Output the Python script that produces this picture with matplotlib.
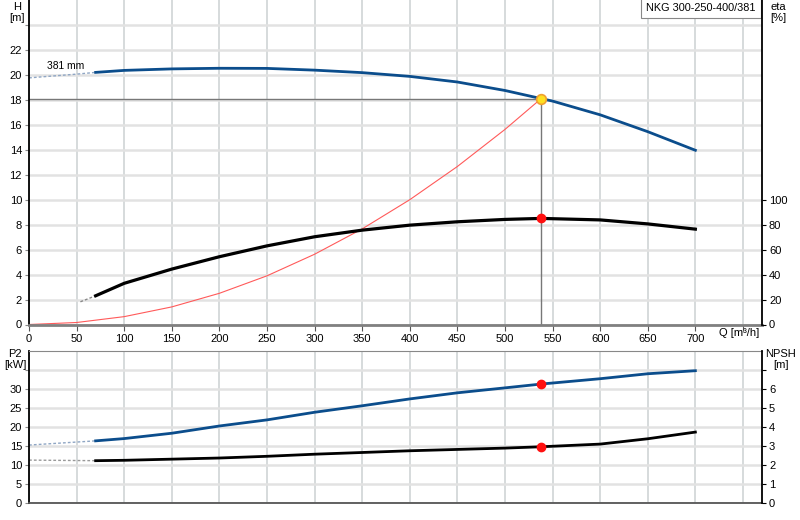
import numpy as np
import matplotlib
matplotlib.use("Agg")
import matplotlib.pyplot as plt

plt.rcParams['font.family'] = ['Liberation Sans', 'DejaVu Sans']
plt.rcParams['font.size'] = 8

# head curve H [m]
q_h = [0, 50, 70, 100, 150, 200, 250, 300, 350, 400, 450, 500, 538, 550, 600, 650, 700]
h = [19.76, 20.06, 20.2, 20.36, 20.48, 20.53, 20.52, 20.38, 20.18, 19.88, 19.43, 18.75, 18.1, 17.9, 16.8, 15.45, 13.96]

# efficiency eta [%]
q_eta = [54, 70, 100, 150, 200, 250, 300, 350, 400, 450, 500, 538, 600, 650, 700]
eta = [18.2, 23, 33, 44.4, 54.3, 63, 70.3, 75.6, 79.6, 82.3, 84.2, 85, 83.8, 80.6, 76.4]

# system curve
q_sys = [0, 50, 100, 150, 200, 250, 300, 350, 400, 450, 500, 538]
h_sys = [0, 0.16, 0.63, 1.41, 2.5, 3.9, 5.63, 7.66, 10.0, 12.66, 15.63, 18.1]

# power P2 [kW]
q_p2 = [0, 70, 100, 150, 200, 250, 300, 350, 400, 450, 500, 538, 600, 650, 700]
p2 = [15.2, 16.3, 16.9, 18.3, 20.2, 21.8, 23.8, 25.5, 27.3, 28.9, 30.2, 31.2, 32.6, 33.9, 34.7]

# NPSH [m]
q_npsh = [0, 70, 100, 150, 200, 250, 300, 350, 400, 450, 500, 538, 600, 650, 700]
npsh = [2.25, 2.22, 2.24, 2.3, 2.36, 2.45, 2.56, 2.65, 2.74, 2.81, 2.88, 2.95, 3.09, 3.37, 3.72]

duty_q, duty_h, duty_eta, duty_p2, duty_npsh = 538, 18.1, 85, 31.2, 2.95
solid_from = 70

blue = '#0b4d8c'
grid_h = '#e2e2e2'
grid_v = '#d0d4d6'


def split(q, v, start):
    q = np.array(q, float)
    v = np.array(v, float)
    m = q <= start
    return q[m], v[m], q[q >= start], v[q >= start]


def setup(ax):
    ax.set_xlim(0, 770)
    ax.set_xticks(np.arange(0, 751, 50))
    ax.xaxis.grid(True, color=grid_v, lw=1.2)
    ax.yaxis.grid(True, color=grid_h, lw=1.8)
    ax.set_axisbelow(True)
    ax.spines['left'].set_color('black')
    ax.spines['left'].set_linewidth(1.3)
    ax.spines['right'].set_visible(False)
    ax.tick_params(axis='y', length=3, color='#888888', pad=2)


fig = plt.figure(figsize=(8, 5.2), dpi=100)
ax1 = fig.add_axes([29 / 800, 1 - 324.5 / 520, 733 / 800, 324.5 / 520])
ax2 = fig.add_axes([29 / 800, 1 - 503 / 520, 733 / 800, 152.5 / 520])

# ---- top panel
setup(ax1)
ax1.set_xticklabels([str(v) if v < 750 else '' for v in range(0, 751, 50)])
ax1.set_ylim(0, 26)
ax1.set_yticks(np.arange(0, 25, 2))
ax1.set_yticklabels([str(v) if v < 24 else '' for v in range(0, 25, 2)])
ax1.spines['top'].set_visible(False)
ax1.spines['bottom'].set_color('#808080')
ax1.spines['bottom'].set_linewidth(2)
ax1.tick_params(axis='x', length=4, color='#555555', pad=3)

qa, ha, qb, hb = split(q_h, h, solid_from)
ax1.plot(qa, ha, color='#8fa6c4', lw=1, ls=(0, (2, 1.5)))
ax1.plot(qb, hb, color=blue, lw=2)

ax1.plot(q_sys, h_sys, color='#ff5a5a', lw=0.8)

# eta on the same axes, scaled 10 % per m
ea, eav, eb, ebv = split(q_eta, eta, solid_from)
ax1.plot(ea, eav / 10, color='#888888', lw=1, ls=(0, (2, 1.5)))
ax1.plot(eb, ebv / 10, color='black', lw=2.3)

ax1.plot([0, duty_q], [duty_h, duty_h], color='#777777', lw=1)
ax1.plot([duty_q, duty_q], [0, duty_h], color='#777777', lw=1)
ax1.plot(duty_q, duty_h, 'o', ms=7, mfc='#ffe020', mec='#f0a030', mew=1.2, zorder=5)
ax1.plot(duty_q, duty_eta / 10, 'o', ms=6, color='#ff1010', zorder=5)

ax1.text(19, 20.75, '381 mm', fontsize=7.4, ha='left', va='center')
ax1.text(725, -0.027, 'Q [m³/h]', transform=ax1.get_xaxis_transform(),
         ha='left', va='center', fontsize=8)
ax1.text(0.9915, 0.99, 'NKG 300-250-400/381', transform=ax1.transAxes,
         ha='right', va='top', fontsize=7.8,
         bbox=dict(boxstyle='square,pad=0.45', fc='white', ec='#888888', lw=0.8))

ax1r = ax1.twinx()
ax1r.set_ylim(0, 260)
ax1r.set_yticks(np.arange(0, 101, 20))
for s in ['top', 'left', 'bottom']:
    ax1r.spines[s].set_visible(False)
ax1r.spines['right'].set_linewidth(1.3)
ax1r.tick_params(axis='y', length=3, pad=2)

# ---- bottom panel
setup(ax2)
ax2.set_ylim(0, 40)
ax2.set_yticks(np.arange(0, 36, 5))
ax2.set_yticklabels([str(v) if v < 35 else '' for v in range(0, 36, 5)])
ax2.spines['top'].set_color('#888888')
ax2.spines['bottom'].set_color('#555555')
ax2.spines['bottom'].set_linewidth(1.3)
ax2.tick_params(axis='x', length=0, labelbottom=False)

pa, pav, pb, pbv = split(q_p2, p2, solid_from)
ax2.plot(pa, pav, color='#8fa6c4', lw=1, ls=(0, (2, 1.5)))
ax2.plot(pb, pbv, color=blue, lw=2)

na, nav, nb, nbv = split(q_npsh, npsh, solid_from)
ax2.plot(na, nav * 5, color='#999999', lw=1, ls=(0, (2, 1.5)))
ax2.plot(nb, nbv * 5, color='black', lw=2)

ax2.plot(duty_q, duty_p2, 'o', ms=6, color='#ff1010', zorder=5)
ax2.plot(duty_q, duty_npsh * 5, 'o', ms=6, color='#ff1010', zorder=5)

ax2r = ax2.twinx()
ax2r.set_ylim(0, 8)
ax2r.set_yticks(np.arange(0, 8, 1))
ax2r.set_yticklabels([str(v) if v < 7 else '' for v in range(0, 8)])
for s in ['top', 'left', 'bottom']:
    ax2r.spines[s].set_visible(False)
ax2r.spines['right'].set_linewidth(1.3)
ax2r.tick_params(axis='y', length=3, pad=2)

# axis titles
fig.text(17 / 800, 0.997, 'H\n[m]', ha='center', va='top', fontsize=8, linespacing=1.15)
fig.text(778 / 800, 0.997, 'eta\n[%]', ha='center', va='top', fontsize=8, linespacing=1.15)
fig.text(15 / 800, 1 - 349 / 520, 'P2\n[kW]', ha='center', va='top', fontsize=8, linespacing=1.15)
fig.text(781 / 800, 1 - 349 / 520, 'NPSH\n[m]', ha='center', va='top', fontsize=8, linespacing=1.15)

fig.savefig('out.png', dpi=100)
